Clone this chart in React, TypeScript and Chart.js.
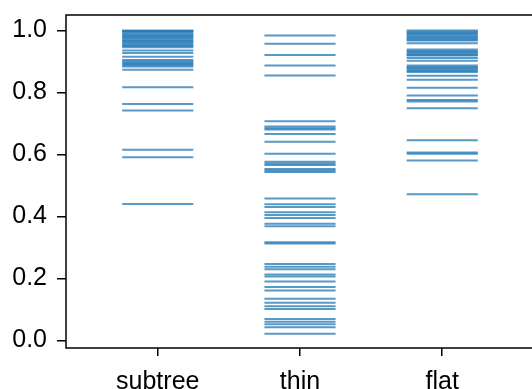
import React, { useEffect, useRef } from "react";
import { Chart, registerables } from "chart.js";

Chart.register(...registerables);

const categories = ["subtree", "thin", "flat"];

const subtreeValues = [
  1.0, 0.998, 0.995, 0.99, 0.986, 0.982, 0.978, 0.975, 0.97, 0.966, 0.962, 0.958, 0.954, 0.95, 0.946,
  0.935, 0.927, 0.915, 0.905, 0.9, 0.896, 0.892, 0.888, 0.884, 0.873, 0.817, 0.763, 0.742, 0.615, 0.591, 0.44,
];

const thinValues = [
  0.984, 0.957, 0.921, 0.887, 0.855, 0.707, 0.69, 0.684, 0.68, 0.666, 0.641, 0.602, 0.576, 0.571, 0.566,
  0.553, 0.548, 0.543, 0.458, 0.439, 0.43, 0.413, 0.404, 0.395, 0.376, 0.368, 0.316, 0.312, 0.246, 0.237,
  0.229, 0.212, 0.206, 0.19, 0.172, 0.161, 0.134, 0.121, 0.11, 0.101, 0.069, 0.06, 0.052, 0.042, 0.021,
];

const flatValues = [
  1.0, 0.996, 0.992, 0.988, 0.984, 0.979, 0.975, 0.971, 0.968, 0.959, 0.939, 0.934, 0.93, 0.926, 0.922,
  0.919, 0.911, 0.902, 0.887, 0.882, 0.878, 0.874, 0.87, 0.866, 0.854, 0.841, 0.815, 0.79, 0.776, 0.771,
  0.749, 0.646, 0.606, 0.602, 0.58, 0.471,
];

const seriesValues = [subtreeValues, thinValues, flatValues];
const yTickValues = [0, 0.2, 0.4, 0.6, 0.8, 1.0];
const xTickValues = [0, 1, 2];

const LINE_COLOR = "rgba(31,119,180,0.75)";
const FONT = { family: "'Liberation Sans', Arial, sans-serif", size: 25 };

const framePlugin = {
  id: "frame",
  afterDraw(chart: any) {
    const { ctx, chartArea } = chart;
    ctx.save();
    ctx.strokeStyle = "#000";
    ctx.lineWidth = 1.5;
    ctx.strokeRect(chartArea.left, chartArea.top, chartArea.right - chartArea.left, chartArea.bottom - chartArea.top);
    ctx.restore();
  },
};

export default function App() {
  const ref = useRef<HTMLCanvasElement | null>(null);

  useEffect(() => {
    document.body.style.margin = "0";
    document.body.style.overflow = "hidden";
    const datasets: any[] = [];
    seriesValues.forEach((vals, i) => {
      vals.forEach((v) => {
        datasets.push({
          data: [
            { x: i - 0.25, y: v },
            { x: i + 0.25, y: v },
          ],
          showLine: true,
          borderColor: LINE_COLOR,
          borderWidth: 2,
          pointRadius: 0,
          fill: false,
        });
      });
    });

    const chart = new Chart(ref.current as HTMLCanvasElement, {
      type: "scatter",
      data: { datasets },
      plugins: [framePlugin],
      options: {
        animation: false,
        responsive: false,
        maintainAspectRatio: false,
        layout: { padding: { top: 15, right: 6, left: 0, bottom: 0 } },
        plugins: { legend: { display: false }, tooltip: { enabled: false } },
        scales: {
          x: {
            type: "linear",
            min: -0.645,
            max: 2.645,
            afterBuildTicks: (scale: any) => {
              scale.ticks = xTickValues.map((v) => ({ value: v }));
            },
            afterFit: (scale: any) => {
              scale.height = 41;
              scale.paddingLeft = 0;
              scale.paddingRight = 0;
            },
            border: { display: false },
            grid: { drawOnChartArea: false, drawTicks: true, tickLength: 8, color: "#000", lineWidth: 1.5 },
            ticks: {
              color: "#000",
              font: FONT,
              padding: 11,
              maxRotation: 0,
              autoSkip: false,
              callback: (v: any) => categories[Number(v)] ?? "",
            },
          },
          y: {
            type: "linear",
            min: -0.025,
            max: 1.05,
            afterBuildTicks: (scale: any) => {
              scale.ticks = yTickValues.map((v) => ({ value: v }));
            },
            afterFit: (scale: any) => {
              scale.width = 66;
              scale.paddingTop = 0;
              scale.paddingBottom = 0;
            },
            border: { display: false },
            grid: { drawOnChartArea: false, drawTicks: true, tickLength: 9, color: "#000", lineWidth: 1.5 },
            ticks: {
              color: "#000",
              font: FONT,
              padding: 10,
              autoSkip: false,
              callback: (v: any) => Number(v).toFixed(1),
            },
          },
        },
      },
    });
    return () => chart.destroy();
  }, []);

  return (
    <div style={{ position: "fixed", left: 0, top: 0, width: 540, height: 389 }}>
      <canvas ref={ref} width={540} height={389} style={{ width: 540, height: 389, display: "block" }} />
    </div>
  );
}
